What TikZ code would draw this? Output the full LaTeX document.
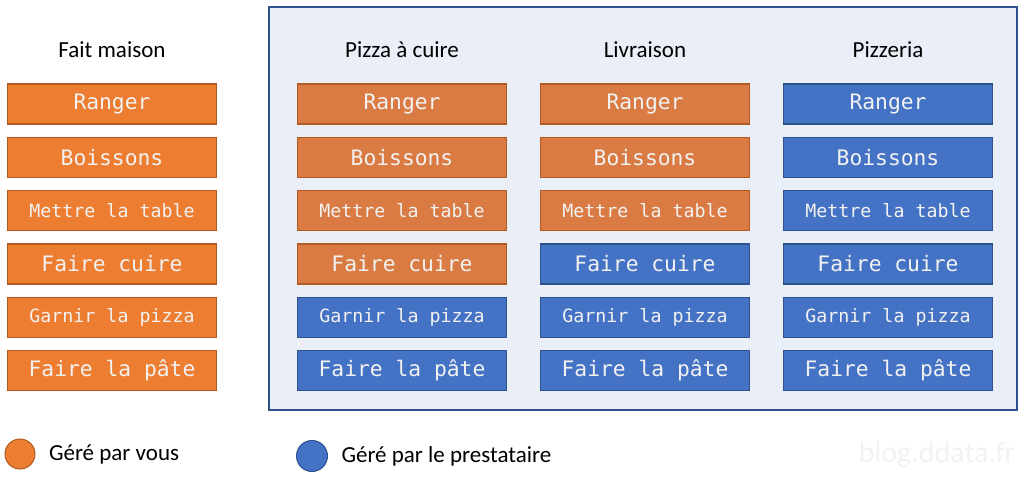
\documentclass[tikz,border=0pt]{standalone}
\usepackage{fontspec}
\setmainfont{Carlito}
\newfontfamily\monofont{DejaVu Sans Mono}
\usepackage{tikz}
\usetikzlibrary{positioning}

\definecolor{orangev}{HTML}{ED7D31}
\definecolor{orangevb}{HTML}{AE5A21}
\definecolor{orangep}{HTML}{D97B43}
\definecolor{bleup}{HTML}{4472C4}
\definecolor{bleupb}{HTML}{2F528F}
\definecolor{fondp}{HTML}{E9EEF7}

\begin{document}
\begin{tikzpicture}[
          x=1pt, y=-1pt,
          tache/.style={draw, line width=1.3pt, minimum width=209pt, minimum height=40pt,
            inner sep=0pt, text=white!95!black, font=\monofont\fontsize{21.3}{21.3}\selectfont},
          petit/.style={font=\monofont\fontsize{18.3}{18.3}\selectfont},
          vous/.style={tache, fill=orangev, draw=orangevb},
          vousp/.style={tache, fill=orangep, draw=orangevb},
          presta/.style={tache, fill=bleup, draw=bleupb},
          titre/.style={font=\fontsize{23}{23}\selectfont},
          node distance=12pt
        ]
        \useasboundingbox (0,0) rectangle (1024,478);
        \draw[fill=fondp, draw=bleupb, line width=1.3pt] (269,7) rectangle (1017,410);
        % colonne fait maison
        \node[titre] (tfm) at (112,50) {Fait maison};
        \node[vous] (fm1) at (112,104) {Ranger};
        \node[vous] (fm2) [below=of fm1] {Boissons};
        \node[vous,petit] (fm3) [below=of fm2] {Mettre la table};
        \node[vous] (fm4) [below=of fm3] {Faire cuire};
        \node[vous,petit] (fm5) [below=of fm4] {Garnir la pizza};
        \node[vous] (fm6) [below=of fm5] {Faire la pâte};
        % colonne pizza a cuire
        \node[titre] (tpc) at (402,50) {Pizza à cuire};
        \node[vousp] (pc1) at (402,104) {Ranger};
        \node[vousp] (pc2) [below=of pc1] {Boissons};
        \node[vousp,petit] (pc3) [below=of pc2] {Mettre la table};
        \node[vousp] (pc4) [below=of pc3] {Faire cuire};
        \node[presta,petit] (pc5) [below=of pc4] {Garnir la pizza};
        \node[presta] (pc6) [below=of pc5] {Faire la pâte};
        % colonne livraison
        \node[titre] (tli) at (645,50) {Livraison};
        \node[vousp] (li1) at (645,104) {Ranger};
        \node[vousp] (li2) [below=of li1] {Boissons};
        \node[vousp,petit] (li3) [below=of li2] {Mettre la table};
        \node[presta] (li4) [below=of li3] {Faire cuire};
        \node[presta,petit] (li5) [below=of li4] {Garnir la pizza};
        \node[presta] (li6) [below=of li5] {Faire la pâte};
        % colonne pizzeria
        \node[titre] (tpz) at (888,50) {Pizzeria};
        \node[presta] (pz1) at (888,104) {Ranger};
        \node[presta] (pz2) [below=of pz1] {Boissons};
        \node[presta,petit] (pz3) [below=of pz2] {Mettre la table};
        \node[presta] (pz4) [below=of pz3] {Faire cuire};
        \node[presta,petit] (pz5) [below=of pz4] {Garnir la pizza};
        \node[presta] (pz6) [below=of pz5] {Faire la pâte};
        % legende
        \node[circle, fill=orangev, draw=orangevb, line width=1pt, minimum size=30pt, inner sep=0pt] (lvous) at (20,454) {};
        \node[titre, anchor=west] (tvous) [right=10pt of lvous] {Géré par vous};
        \node[circle, fill=bleup, draw=bleupb, line width=1pt, minimum size=31pt, inner sep=0pt] (lpresta) at (312,456) {};
        \node[titre, anchor=west] (tpresta) [right=10pt of lpresta] {Géré par le prestataire};
        \node[font=\fontsize{30}{30}\selectfont, text=black!5] (blog) at (937,455) {blog.ddata.fr};
\end{tikzpicture}
\end{document}
